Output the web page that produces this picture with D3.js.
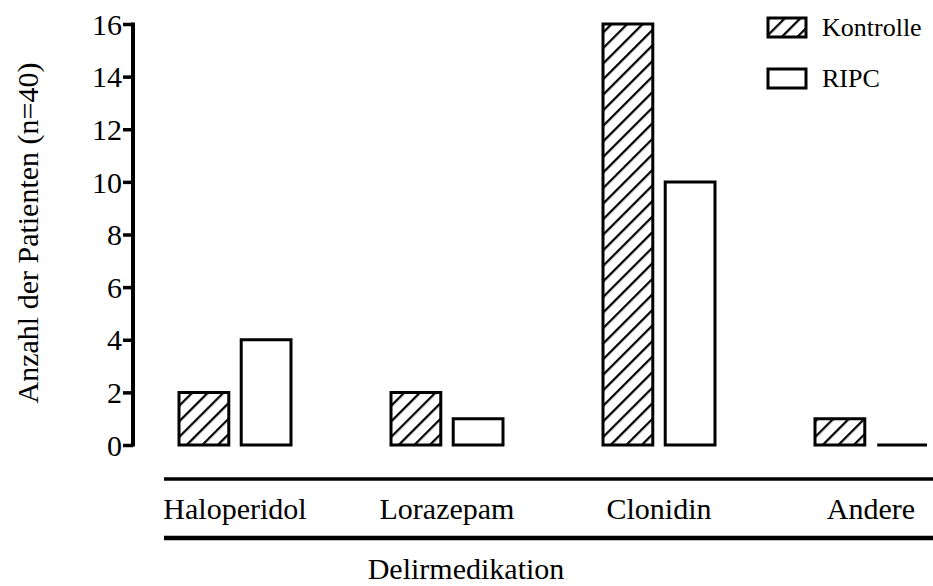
<!DOCTYPE html>
<html>
<head>
<meta charset="utf-8">
<script src="https://cdn.jsdelivr.net/npm/d3@7"></script>
<style>
  html, body { margin: 0; padding: 0; background: #fff; }
  svg { display: block; }
  svg text { font-family: "Liberation Serif", Tinos, "Times New Roman", Times, "DejaVu Serif", serif; fill: #000; }
</style>
</head>
<body>
<svg id="chart" width="933" height="586"></svg>
<script>
const categories = ["Haloperidol", "Lorazepam", "Clonidin", "Andere"];
const seriesNames = ["Kontrolle", "RIPC"];
const kontrolle = [2, 2, 16, 1];
const ripc = [4, 1, 10, 0];
const yTicks = [0, 2, 4, 6, 8, 10, 12, 14, 16];
const yLabel = "Anzahl der Patienten (n=40)";
const xLabel = "Delirmedikation";

const FONT = '"Liberation Serif", Tinos, "Times New Roman", Times, "DejaVu Serif", serif';

const svg = d3.select("#chart");
const defs = svg.append("defs");
defs.append("pattern")
  .attr("id", "hatch")
  .attr("patternUnits", "userSpaceOnUse")
  .attr("width", 11).attr("height", 11)
  .attr("patternTransform", "rotate(45)")
  .append("line")
  .attr("x1", 0).attr("y1", 0).attr("x2", 0).attr("y2", 11)
  .attr("stroke", "#000").attr("stroke-width", 4.5);

const fills = { "Kontrolle": "url(#hatch)", "RIPC": "#fff" };
const values = { "Kontrolle": kontrolle, "RIPC": ripc };

const y = d3.scaleLinear().domain([0, 16]).range([445, 24]);

const x0 = d3.scaleBand().domain(categories)
  .range([129, 977])
  .paddingInner(100 / 212)
  .paddingOuter(50 / 212);
const x1 = d3.scaleBand().domain(seriesNames)
  .range([0, x0.bandwidth()])
  .paddingInner(0.2);

// Y axis
const yAxis = d3.axisLeft(y).tickValues(yTicks).tickSize(10).tickSizeOuter(0).tickPadding(1);
const gy = svg.append("g").attr("transform", "translate(133,0)").call(yAxis);
gy.attr("font-family", null).attr("font-size", null);
gy.select(".domain").attr("stroke", "#000").attr("stroke-width", 4).attr("d", `M0,${y(16) - 1.5}V${y(0) + 1.5}`);
gy.selectAll(".tick line").attr("stroke", "#000").attr("stroke-width", 3.5);
gy.selectAll(".tick text")
  .style("font-family", FONT)
  .style("font-size", "30px").attr("fill", "#000").attr("dy", "0.34em");

// Bars
const groups = svg.append("g").selectAll("g")
  .data(categories).join("g")
  .attr("transform", d => `translate(${x0(d)},0)`);

groups.selectAll("path")
  .data((d, i) => seriesNames.map(s => ({ s, v: values[s][i] })))
  .join("path")
  .attr("d", d => {
    const xa = x1(d.s), xb = xa + x1.bandwidth();
    const ya = y(0), yb = y(d.v);
    return `M${xa},${ya}H${xb}V${yb}H${xa}Z`;
  })
  .attr("fill", d => fills[d.s])
  .attr("stroke", "#000")
  .attr("stroke-width", 3)
  .attr("stroke-linejoin", "miter");

// Category bracket lines
svg.append("line").attr("x1", 164).attr("x2", 933).attr("y1", 479).attr("y2", 479)
  .attr("stroke", "#000").attr("stroke-width", 3.5);
svg.append("line").attr("x1", 164).attr("x2", 933).attr("y1", 538).attr("y2", 538)
  .attr("stroke", "#000").attr("stroke-width", 4.5);

// Category labels
svg.append("g").selectAll("text").data(categories).join("text")
  .attr("x", d => x0(d) + x0.bandwidth() / 2)
  .attr("y", 519)
  .attr("text-anchor", "middle")
  .style("font-family", FONT)
  .style("font-size", "30px")
  .text(d => d);

// Axis titles
svg.append("text")
  .attr("transform", "translate(38,233) rotate(-90)")
  .attr("text-anchor", "middle")
  .style("font-family", FONT)
  .style("font-size", "30px")
  .text(yLabel);

svg.append("text")
  .attr("x", 466).attr("y", 579)
  .attr("text-anchor", "middle")
  .style("font-family", FONT)
  .style("font-size", "30px")
  .text(xLabel);

// Legend
const legend = svg.append("g").selectAll("g").data(seriesNames).join("g")
  .attr("transform", (d, i) => `translate(768,${18 + i * 51})`);
legend.append("rect")
  .attr("width", 38).attr("height", 19)
  .attr("fill", d => fills[d])
  .attr("stroke", "#000").attr("stroke-width", 3);
legend.append("text")
  .attr("x", 54).attr("y", 18)
  .style("font-family", FONT)
  .style("font-size", "26px")
  .text(d => d);
</script>
</body>
</html>
